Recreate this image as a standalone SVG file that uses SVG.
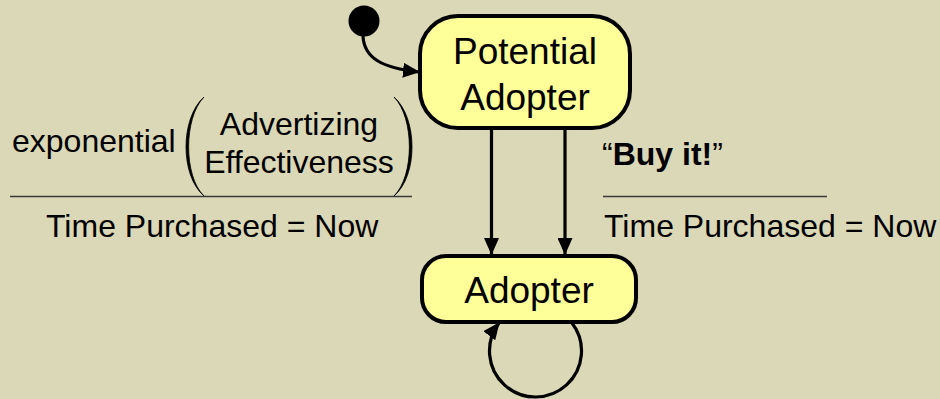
<svg xmlns="http://www.w3.org/2000/svg" width="940" height="399" viewBox="0 0 940 399">
<defs>
<style>
.node{fill:#FFFF99;stroke:#000;stroke-width:4}
.nt{font-family:"Liberation Sans",Arial,sans-serif;font-size:37px;fill:#000;text-anchor:middle}
.lbl{font-family:"Liberation Sans",Arial,sans-serif;font-size:32px;fill:#000}
.edge{fill:none;stroke:#000;stroke-width:3.2}
.rule{stroke:#3a3a3a;stroke-width:1.5}
.paren{fill:#000;stroke:#000;stroke-width:0.8}
</style>
<marker id="ah" markerWidth="17" markerHeight="15" refX="16" refY="7.5" orient="auto" markerUnits="userSpaceOnUse">
<path d="M0,0 L17,7.5 L0,15 Z" fill="#000"/>
</marker>
</defs>
<rect width="940" height="399" fill="#DAD8B6"/>
<g id="initial">
<circle cx="364" cy="21" r="15.5" fill="#000"/>
</g>
<g id="potential-adopter">
<rect class="node" x="420" y="16" width="210" height="112" rx="38"/>
<text class="nt" x="525" y="64">Potential</text>
<text class="nt" x="525" y="110">Adopter</text>
</g>
<g id="adopter">
<rect class="node" x="422" y="256" width="214" height="66" rx="24"/>
<text class="nt" x="529" y="303">Adopter</text>
</g>
<g id="connectors">
<path class="edge" d="M363,36 C364,58 382,68 419,72" marker-end="url(#ah)"/>
<path class="edge" d="M491.5,128 L491.5,254" marker-end="url(#ah)"/>
<path class="edge" d="M565,128 L565,254" marker-end="url(#ah)"/>
<path class="edge" d="M572,323 A46,46 0 1 1 499,323" marker-end="url(#ah)"/>
</g>
<g id="label-left">
<text class="lbl" x="12" y="152">exponential</text>
<path class="paren" d="M204,97 C180,118 180,176 204,196 C183.5,176 183.5,118 204,97 Z"/>
<path class="paren" d="M394,97 C418,118 418,176 394,196 C414.5,176 414.5,118 394,97 Z"/>
<text class="lbl" x="299" y="135" text-anchor="middle">Advertizing</text>
<text class="lbl" x="299" y="173" text-anchor="middle">Effectiveness</text>
<line class="rule" x1="10" y1="196.5" x2="412" y2="196.5"/>
<text class="lbl" x="46" y="237">Time Purchased = Now</text>
</g>
<g id="label-right">
<text class="lbl" x="602" y="165">“<tspan font-weight="bold">Buy it!</tspan>”</text>
<line class="rule" x1="603" y1="196.5" x2="827" y2="196.5"/>
<text class="lbl" x="604" y="237">Time Purchased = Now</text>
</g>
</svg>
